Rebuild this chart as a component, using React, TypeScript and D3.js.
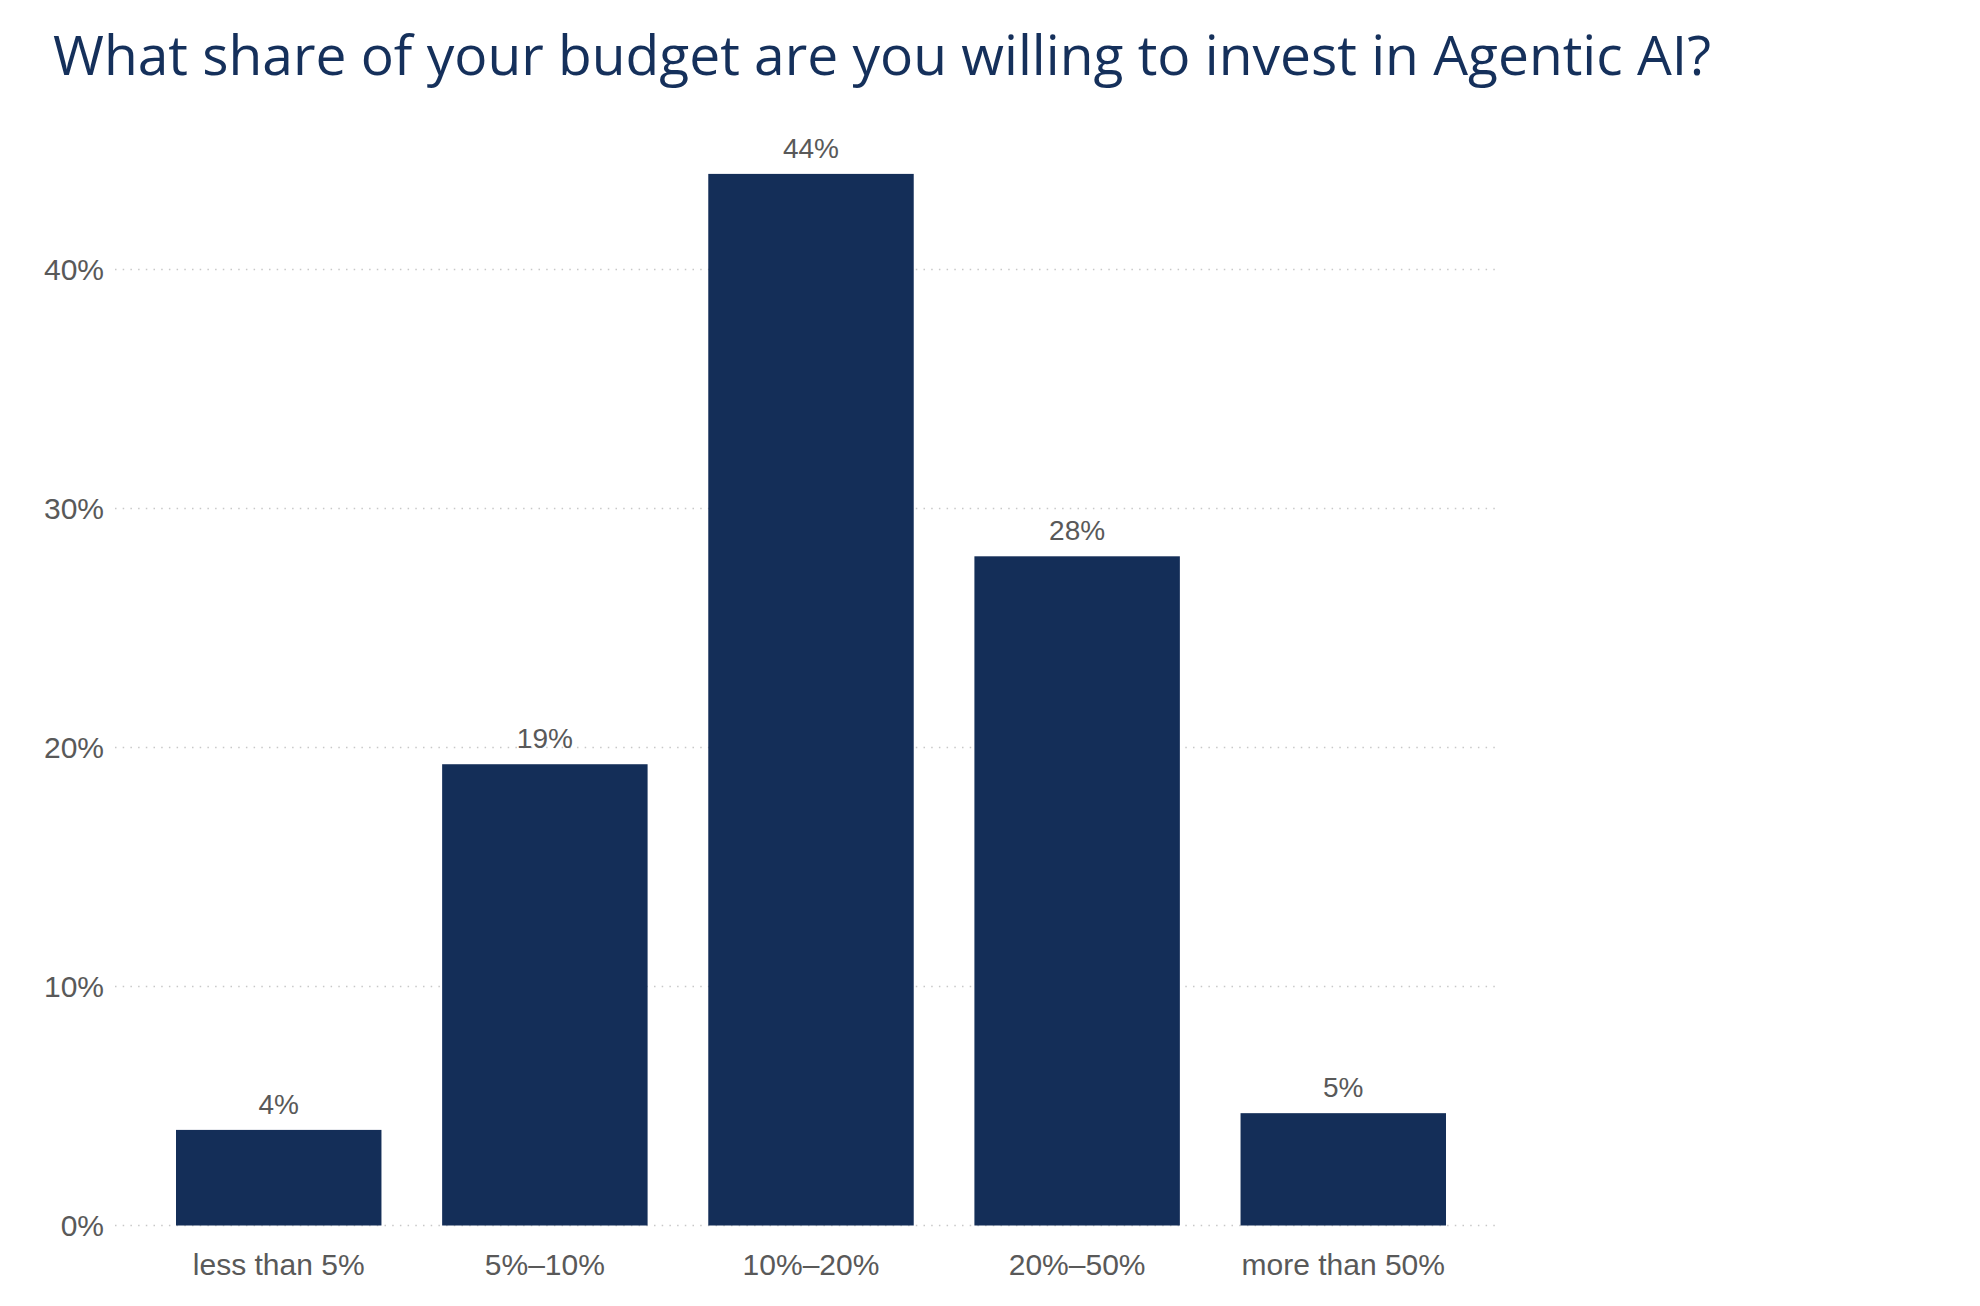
import React from "react";
import * as d3 from "d3";

const title = "What share of your budget are you willing to invest in Agentic AI?";
const categories = ["less than 5%", "5%–10%", "10%–20%", "20%–50%", "more than 50%"];
const values = [4.0, 19.3, 44.0, 28.0, 4.7];
const yTicks = [0, 10, 20, 30, 40];

const W = 1980;
const H = 1306;

export default function App() {
  const x = d3
    .scaleBand<string>()
    .domain(categories)
    .range([176, 1446])
    .paddingInner(0.228)
    .paddingOuter(0);
  const y = d3.scaleLinear().domain([0, 40]).range([1225.5, 269.5]);
  const fmt = (v: number) => d3.format(".0%")(Math.round(v) / 100);
  const tickFmt = (v: number) => `${v}%`;

  return (
    <svg
      width={W}
      height={H}
      style={{ position: "absolute", left: 0, top: 0, background: "#fff" }}
      fontFamily="'Liberation Sans', Arial, sans-serif"
    >
      <text
        x={53}
        y={75}
        fontFamily="'Open Sans', 'Noto Sans', sans-serif"
        fontSize={55}
        fill="#15305b"
        textLength={1658}
        lengthAdjust="spacingAndGlyphs"
      >
        {title}
      </text>
      <g>
        {yTicks.map((t) => (
          <g key={t}>
            <line
              x1={115}
              x2={1497}
              y1={y(t)}
              y2={y(t)}
              stroke="#c8c8c8"
              strokeWidth={1.5}
              strokeDasharray="1.5 6.2"
            />
            <text
              x={104}
              y={y(t)}
              dy="0.35em"
              textAnchor="end"
              fontSize={30}
              fill="#595959"
            >
              {tickFmt(t)}
            </text>
          </g>
        ))}
      </g>
      <g>
        {categories.map((c, i) => (
          <g key={c}>
            <rect
              x={x(c)}
              y={y(values[i])}
              width={x.bandwidth()}
              height={y(0) - y(values[i])}
              fill="#142e58"
            />
            <text
              x={(x(c) as number) + x.bandwidth() / 2}
              y={y(values[i]) - 16}
              textAnchor="middle"
              fontSize={28}
              fill="#595959"
            >
              {fmt(values[i])}
            </text>
            <text
              x={(x(c) as number) + x.bandwidth() / 2}
              y={1275}
              textAnchor="middle"
              fontSize={30}
              fill="#595959"
            >
              {c}
            </text>
          </g>
        ))}
      </g>
    </svg>
  );
}
